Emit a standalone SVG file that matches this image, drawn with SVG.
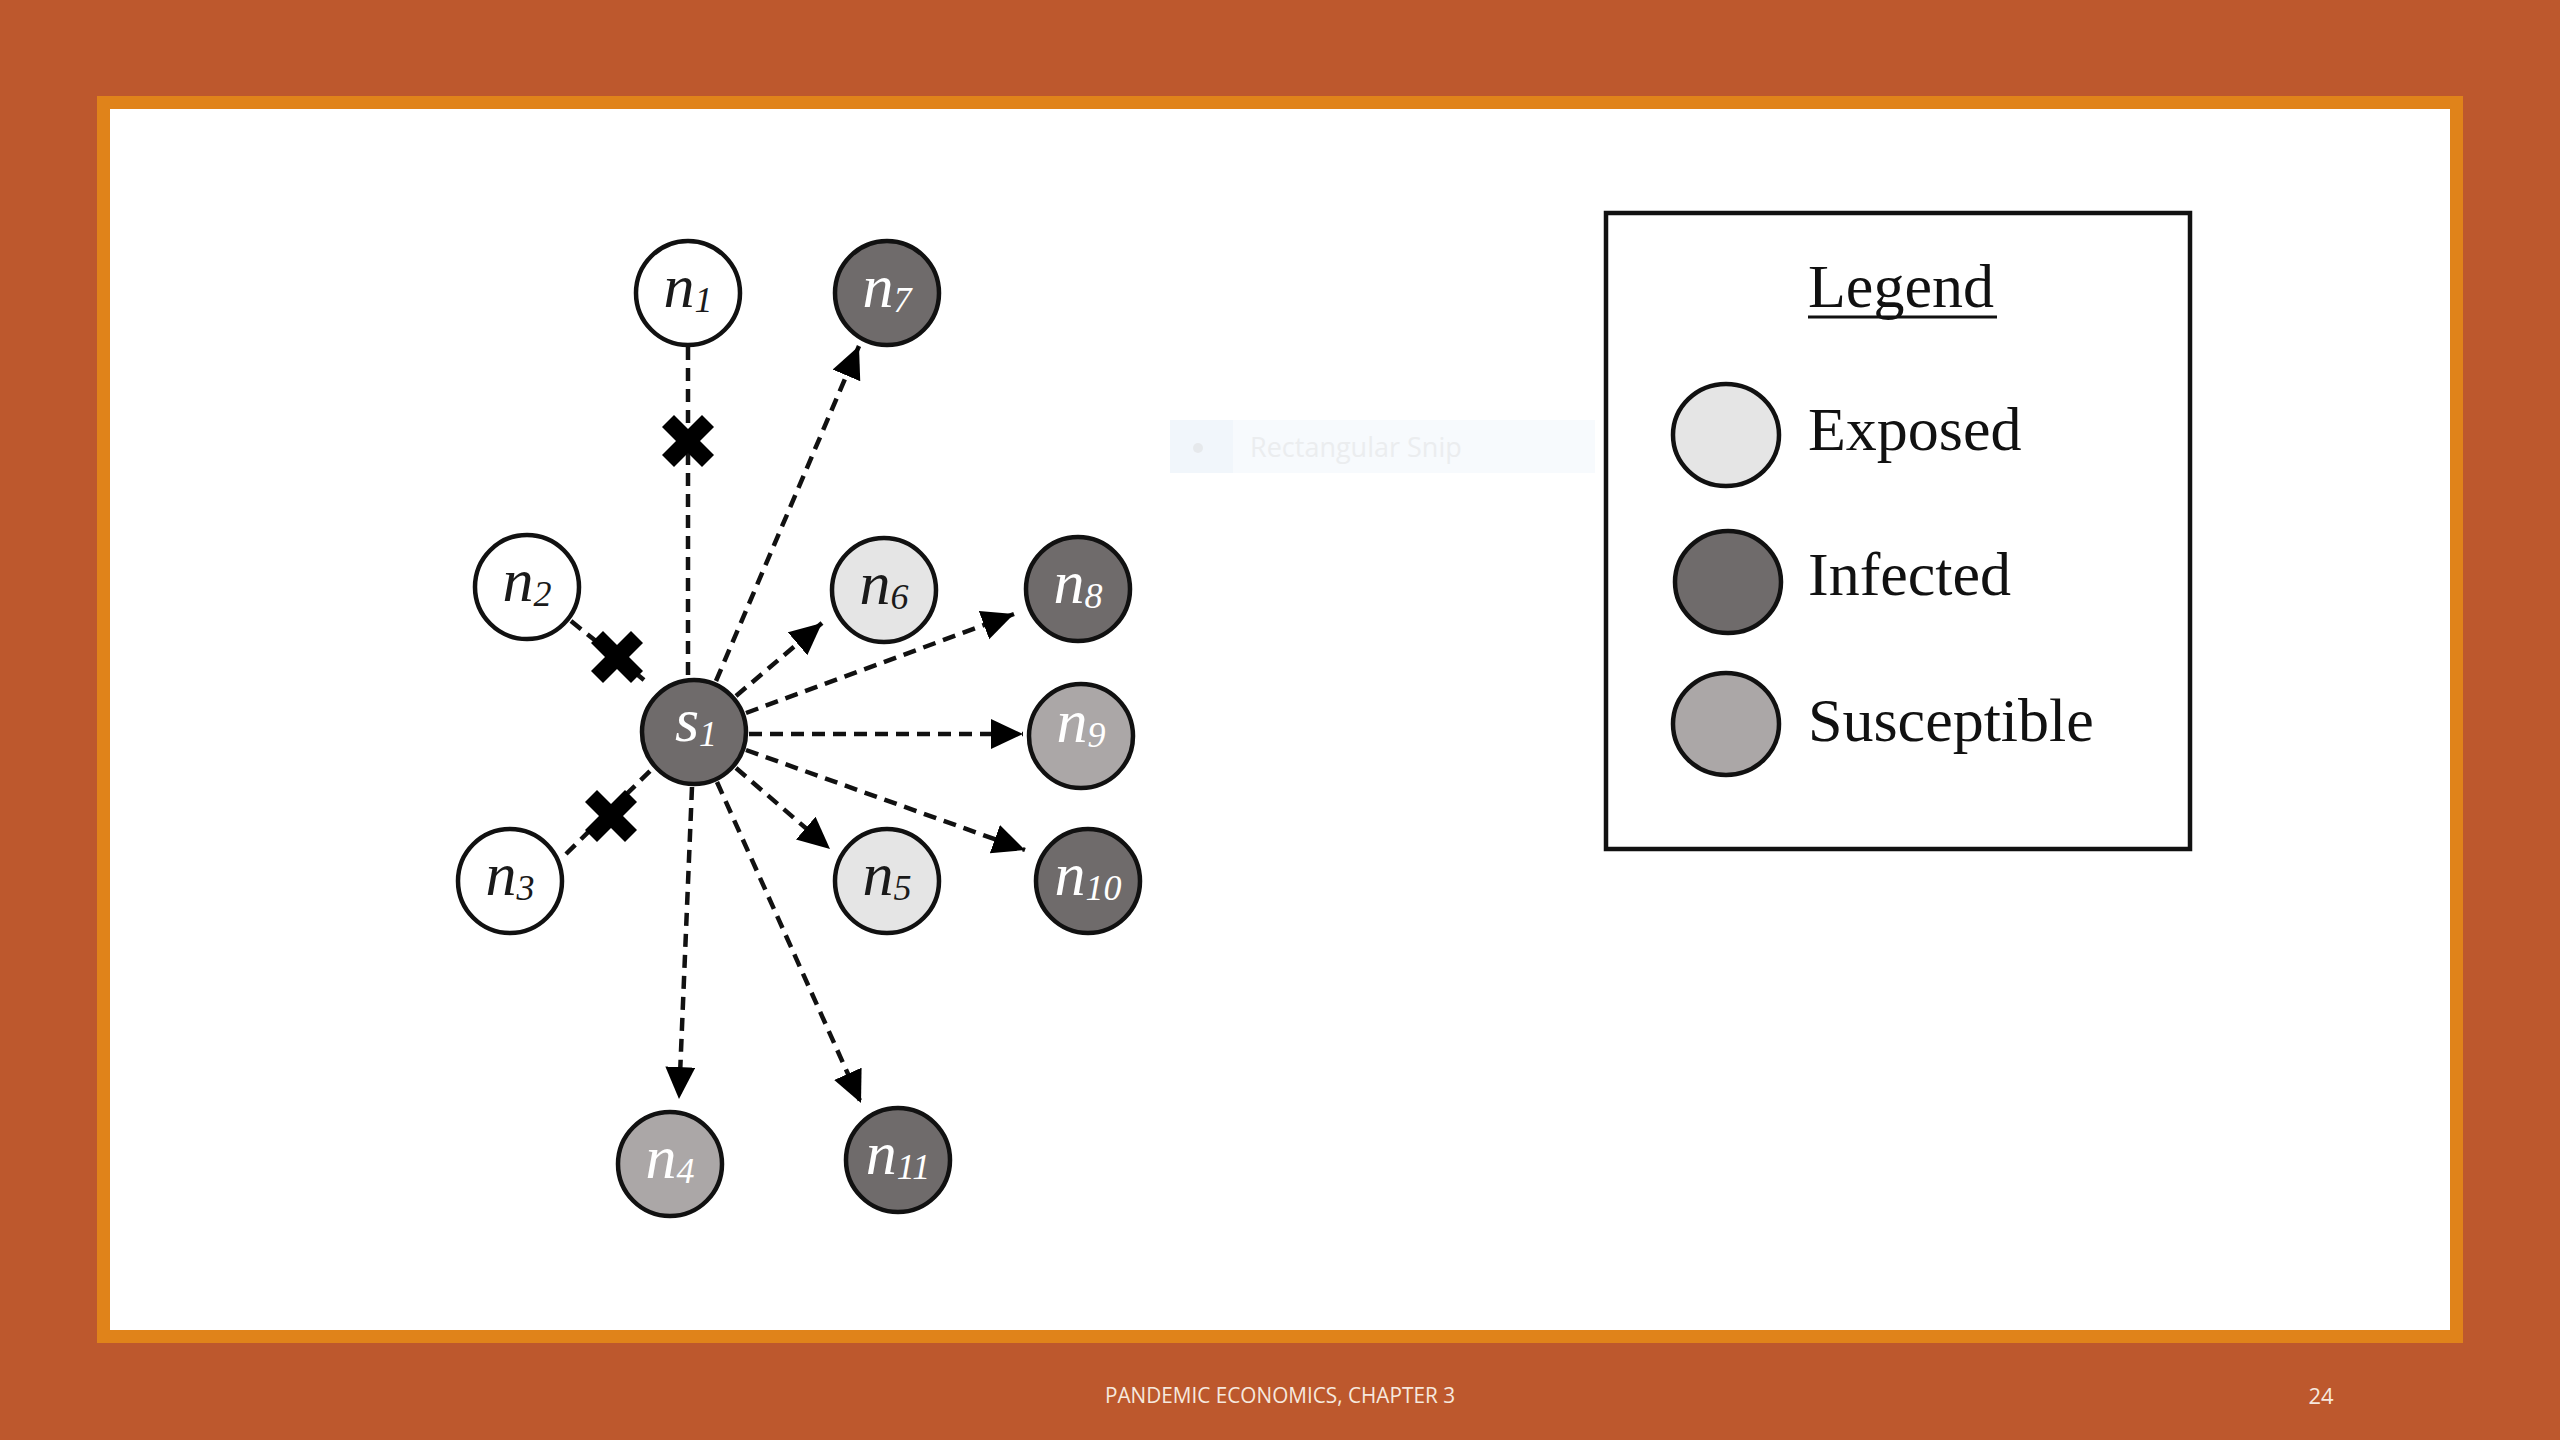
<svg xmlns="http://www.w3.org/2000/svg" width="2560" height="1440" viewBox="0 0 2560 1440">
<defs>
<style>
.node{stroke:#111;stroke-width:4.5}
.white{fill:#ffffff}
.exposed{fill:#e5e5e5}
.infected{fill:#6f6b6b}
.suscept{fill:#aba7a7}
.lbl{font-family:"Liberation Serif","Times New Roman",serif;font-style:italic;font-size:62px;text-anchor:middle}
.sub{font-size:36px}
.dark{fill:#1a1a1a}
.light{fill:#ffffff}
.edge{stroke:#111;stroke-width:4.5;stroke-dasharray:13 8;fill:none}
.arrow{marker-end:url(#ah)}
.xmark{stroke:#000;stroke-width:17;stroke-linecap:butt}
.leg{font-family:"Liberation Serif","Times New Roman",serif;font-size:62px;fill:#111}
.foot{font-family:"Open Sans","Noto Sans",sans-serif;fill:#f6e8de}
</style>
<marker id="ah" markerUnits="userSpaceOnUse" markerWidth="34" markerHeight="32" refX="32" refY="15" orient="auto" viewBox="0 0 34 32">
<path d="M0,0 L32,15 L0,30 Z" fill="#000"/>
</marker>
<g id="xshape"><line class="xmark" x1="-20" y1="-20" x2="20" y2="20"/><line class="xmark" x1="-20" y1="20" x2="20" y2="-20"/></g>
</defs>
<rect x="0" y="0" width="2560" height="1440" fill="#bd582d"/>
<rect x="97" y="96" width="2366" height="1247" fill="#e0831a"/>
<rect x="110" y="109" width="2340" height="1221" fill="#ffffff"/>

<g id="snip-artifact">
<rect x="1170" y="420" width="425" height="53" fill="#f7fafd"/>
<rect x="1170" y="420" width="63" height="53" fill="#f1f6fb"/>
<circle cx="1198" cy="448" r="5" fill="#e6e9ec"/>
<text x="1250" y="457" font-family="Open Sans, Noto Sans, sans-serif" font-size="27" fill="#ebedef">Rectangular Snip</text>
</g>

<g id="connectors">
<line class="edge" x1="688" y1="347" x2="688" y2="678"/>
<line class="edge" x1="571" y1="621" x2="644" y2="680"/>
<line class="edge" x1="566" y1="854" x2="651" y2="770"/>
<line class="edge arrow" x1="716" y1="681" x2="859" y2="346"/>
<line class="edge arrow" x1="736" y1="696" x2="822" y2="623"/>
<line class="edge arrow" x1="746" y1="713" x2="1014" y2="614"/>
<line class="edge arrow" x1="749" y1="734" x2="1023" y2="734"/>
<line class="edge arrow" x1="746" y1="750" x2="1025" y2="850"/>
<line class="edge arrow" x1="736" y1="768" x2="830" y2="849"/>
<line class="edge arrow" x1="717" y1="782" x2="861" y2="1103"/>
<line class="edge arrow" x1="692" y1="787" x2="679" y2="1099"/>
<use href="#xshape" x="688" y="441"/>
<use href="#xshape" x="617" y="657"/>
<use href="#xshape" x="611" y="816"/>
</g>

<g id="node-n1"><ellipse class="node white" cx="688" cy="293" rx="52" ry="52"/><text class="lbl dark" x="688" y="307">n<tspan class="sub" dy="5">1</tspan></text></g>
<g id="node-n7"><ellipse class="node infected" cx="887" cy="293" rx="52" ry="52"/><text class="lbl light" x="887" y="307">n<tspan class="sub" dy="5">7</tspan></text></g>
<g id="node-n2"><ellipse class="node white" cx="527" cy="587" rx="52" ry="52"/><text class="lbl dark" x="527" y="601">n<tspan class="sub" dy="5">2</tspan></text></g>
<g id="node-n6"><ellipse class="node exposed" cx="884" cy="590" rx="52" ry="52"/><text class="lbl dark" x="884" y="604">n<tspan class="sub" dy="5">6</tspan></text></g>
<g id="node-n8"><ellipse class="node infected" cx="1078" cy="589" rx="52" ry="52"/><text class="lbl light" x="1078" y="603">n<tspan class="sub" dy="5">8</tspan></text></g>
<g id="node-s1"><ellipse class="node infected" cx="694" cy="732" rx="52" ry="52"/><text class="lbl light" x="696" y="741">s<tspan class="sub" font-size="40" dy="5">1</tspan></text></g>
<g id="node-n9"><ellipse class="node suscept" cx="1081" cy="736" rx="52" ry="52"/><text class="lbl light" x="1081" y="742">n<tspan class="sub" dy="5">9</tspan></text></g>
<g id="node-n3"><ellipse class="node white" cx="510" cy="881" rx="52" ry="52"/><text class="lbl dark" x="510" y="895">n<tspan class="sub" dy="5">3</tspan></text></g>
<g id="node-n5"><ellipse class="node exposed" cx="887" cy="881" rx="52" ry="52"/><text class="lbl dark" x="887" y="895">n<tspan class="sub" dy="5">5</tspan></text></g>
<g id="node-n10"><ellipse class="node infected" cx="1088" cy="881" rx="52" ry="52"/><text class="lbl light" x="1088" y="895">n<tspan class="sub" dy="5">10</tspan></text></g>
<g id="node-n4"><ellipse class="node suscept" cx="670" cy="1164" rx="52" ry="52"/><text class="lbl light" x="670" y="1178">n<tspan class="sub" dy="5">4</tspan></text></g>
<g id="node-n11"><ellipse class="node infected" cx="898" cy="1160" rx="52" ry="52"/><text class="lbl light" x="898" y="1174">n<tspan class="sub" dy="5">11</tspan></text></g>

<g id="legend">
<rect x="1606" y="213" width="584" height="636" fill="#ffffff" stroke="#111" stroke-width="4.5"/>
<text class="leg" x="1808" y="307">Legend</text>
<line x1="1808" y1="317" x2="1997" y2="317" stroke="#111" stroke-width="3"/>
<ellipse class="node exposed" cx="1726" cy="435" rx="53" ry="51"/>
<text class="leg" x="1808" y="450">Exposed</text>
<ellipse class="node infected" cx="1728" cy="582" rx="53" ry="51"/>
<text class="leg" x="1808" y="595">Infected</text>
<ellipse class="node suscept" cx="1726" cy="724" rx="53" ry="51"/>
<text class="leg" x="1808" y="741">Susceptible</text>
</g>

<g id="footer">
<text class="foot" x="1105" y="1403" font-size="21" textLength="350" lengthAdjust="spacingAndGlyphs">PANDEMIC ECONOMICS, CHAPTER 3</text>
<text class="foot" x="2321" y="1404" font-size="22" text-anchor="middle">24</text>
</g>
</svg>
